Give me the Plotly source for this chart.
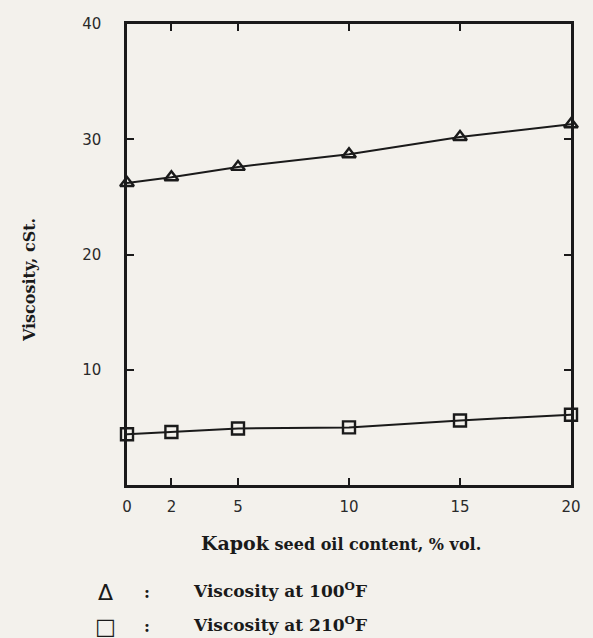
import plotly.graph_objects as go

kapok_content = [0, 2, 5, 10, 15, 20]
visc_100F = [26.2, 26.7, 27.6, 28.7, 30.2, 31.3]
visc_210F = [4.4, 4.6, 4.9, 5.0, 5.6, 6.1]

x_ticks = [0, 2, 5, 10, 15, 20]
y_ticks = [10, 20, 30, 40]

W, H = 593, 638
ML, MR, MT, MB = 127, 17, 24, 153
BG = "#f3f1ec"
INK = "#1a1a1a"
SERIF = "DejaVu Serif"

fig = go.Figure()
fig.add_trace(go.Scatter(x=kapok_content, y=visc_100F, mode="lines+markers",
                         line=dict(color=INK, width=2),
                         marker=dict(symbol="triangle-up-open", size=12, color=INK,
                                     line=dict(width=2.4)),
                         showlegend=False, cliponaxis=False))
fig.add_trace(go.Scatter(x=kapok_content, y=visc_210F, mode="lines+markers",
                         line=dict(color=INK, width=2),
                         marker=dict(symbol="square-open", size=12, color=INK,
                                     line=dict(width=2.4)),
                         showlegend=False, cliponaxis=False))

tickfont = dict(family="DejaVu Sans", size=15, color="#2a2a2a")
fig.update_xaxes(range=[0, 20], tickvals=x_ticks, ticktext=[str(v) for v in x_ticks],
                 ticks="inside", ticklen=7, tickwidth=2, tickcolor=INK,
                 showline=True, linewidth=2.5, linecolor=INK, mirror="ticks",
                 showgrid=False, zeroline=False, tickfont=tickfont, ticklabelstandoff=6)
fig.update_yaxes(range=[0, 40], tickvals=y_ticks, ticktext=[str(v) for v in y_ticks],
                 ticks="inside", ticklen=7, tickwidth=2, tickcolor=INK,
                 showline=True, linewidth=2.5, linecolor=INK, mirror="ticks",
                 showgrid=False, zeroline=False, tickfont=tickfont, ticklabelstandoff=20)

fig.update_layout(
    width=W, height=H,
    margin=dict(l=ML, r=MR, t=MT, b=MB),
    paper_bgcolor=BG, plot_bgcolor=BG,
)

plot_w = W - ML - MR
plot_h = H - MT - MB


def px_to_paper(xp, yp):
    return (xp - ML) / plot_w, (H - MB - yp) / plot_h


# axis titles
xx, xy = px_to_paper(343, 543)
fig.add_annotation(x=xx, y=xy, xref="paper", yref="paper", showarrow=False,
                   text="<b><span style='font-size:19px'>Kapok</span> seed oil content, % vol.</b>",
                   xanchor="center", yanchor="middle", font=dict(family=SERIF, size=16, color=INK))
yx, yy = px_to_paper(28, 280)
fig.add_annotation(x=yx, y=yy, xref="paper", yref="paper", showarrow=False,
                   text="<b>Viscosity, cSt.</b>", textangle=-90,
                   xanchor="center", yanchor="middle",
                   font=dict(family=SERIF, size=16, color=INK))

legend_rows = [("Δ", "<b>Viscosity at 100<sup>O</sup>F</b>", 592),
               ("□", "<b>Viscosity at 210<sup>O</sup>F</b>", 626)]
for sym, txt, ypx in legend_rows:
    xs, ys = px_to_paper(105, ypx)
    fig.add_annotation(x=xs, y=ys, xref="paper", yref="paper", text=sym, showarrow=False,
                       xanchor="center", yanchor="middle",
                       font=dict(family="DejaVu Sans", size=22, color=INK))
    xc, yc = px_to_paper(147, ypx)
    fig.add_annotation(x=xc, y=yc, xref="paper", yref="paper", text="<b>:</b>", showarrow=False,
                       xanchor="center", yanchor="middle",
                       font=dict(family=SERIF, size=16, color=INK))
    xt, yt = px_to_paper(192, ypx - 2)
    fig.add_annotation(x=xt, y=yt, xref="paper", yref="paper", text=txt, showarrow=False,
                       xanchor="left", yanchor="middle",
                       font=dict(family=SERIF, size=17, color=INK))

fig.write_html("out.html", config={"displayModeBar": False},
               post_script="document.body.style.margin='0';document.body.style.background='%s';" % BG)
